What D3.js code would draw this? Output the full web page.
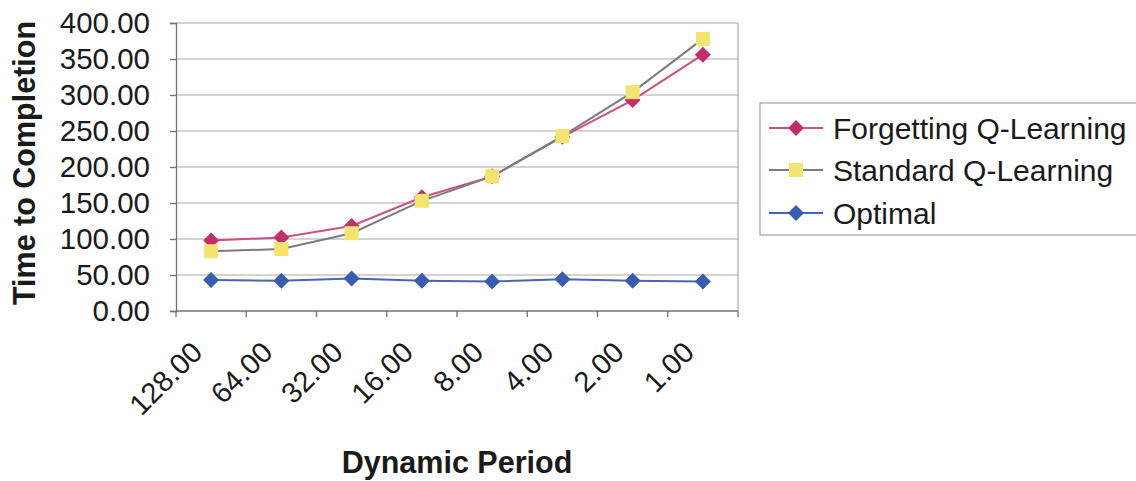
<!DOCTYPE html>
<html>
<head>
<meta charset="utf-8">
<script src="https://cdn.jsdelivr.net/npm/d3@7/dist/d3.min.js"></script>
<style>
  html, body { margin: 0; padding: 0; background: #fff; }
  svg { display: block; font-family: "Liberation Sans", Arial, sans-serif; }
</style>
</head>
<body>
<svg id="chart" width="1136" height="481"></svg>
<script>
// Dynamic period (x categories) and time-to-completion series
const periods = ["128.00", "64.00", "32.00", "16.00", "8.00", "4.00", "2.00", "1.00"];
const forgetting = [98, 102, 118, 158, 187, 242, 293, 356];
const standard   = [83, 86, 108, 153, 187, 243, 304, 378];
const optimal    = [43, 42, 45, 42, 41, 44, 42, 41];
const yTicks = [0, 50, 100, 150, 200, 250, 300, 350, 400];

const seriesNames  = ["Forgetting Q-Learning", "Standard Q-Learning", "Optimal"];
const seriesValues = [forgetting, standard, optimal];
const lineColors   = ["#cc5088", "#7c7c7c", "#4466b4"];
const markerColors = ["#c2306c", "#f2e46e", "#3a5cae"];
const markerShapes = ["diamond", "square", "diamond"];

const svg = d3.select("#chart");
const plot = { left: 176, right: 738, top: 23, bottom: 311 };

const x = d3.scaleBand().domain(periods).range([plot.left, plot.right]).padding(0);
const y = d3.scaleLinear().domain([0, 400]).range([plot.bottom, plot.top]);

// horizontal gridlines
svg.append("g")
  .selectAll("line")
  .data(yTicks.slice(1))
  .join("line")
  .attr("x1", plot.left).attr("x2", plot.right)
  .attr("y1", d => y(d)).attr("y2", d => y(d))
  .attr("stroke", "#a8a8a8").attr("stroke-width", 1.2);

// right border of plot area
svg.append("line")
  .attr("x1", plot.right).attr("x2", plot.right)
  .attr("y1", plot.top).attr("y2", plot.bottom)
  .attr("stroke", "#a8a8a8").attr("stroke-width", 1.2);

// y axis
const yAxis = svg.append("g")
  .attr("transform", `translate(${plot.left},0)`)
  .call(d3.axisLeft(y).tickValues(yTicks).tickFormat(d3.format(".2f")).tickSize(6).tickPadding(20));
yAxis.select(".domain").attr("stroke", "#707070").attr("stroke-width", 1.3);
yAxis.selectAll(".tick line").attr("stroke", "#707070").attr("stroke-width", 1.3);
yAxis.selectAll("text")
  .attr("font-size", 29.5).attr("fill", "#1a1a1a")
  .attr("font-family", "Liberation Sans, Arial, sans-serif");

// x axis: ticks at category boundaries, labels rotated
const xAxis = svg.append("g")
  .attr("transform", `translate(0,${plot.bottom})`)
  .call(d3.axisBottom(x).tickSize(0).tickPadding(0));
xAxis.select(".domain").remove();
xAxis.append("line")
  .attr("x1", plot.left).attr("x2", plot.right)
  .attr("stroke", "#707070").attr("stroke-width", 1.3);
xAxis.selectAll(".boundary")
  .data(d3.range(periods.length + 1))
  .join("line")
  .attr("class", "boundary")
  .attr("x1", i => plot.left + i * x.step()).attr("x2", i => plot.left + i * x.step())
  .attr("y1", 0).attr("y2", 6)
  .attr("stroke", "#707070").attr("stroke-width", 1.3);
xAxis.selectAll(".tick text")
  .attr("font-size", 29).attr("fill", "#1a1a1a")
  .attr("font-family", "Liberation Sans, Arial, sans-serif")
  .attr("text-anchor", "end")
  .attr("dy", 0)
  .attr("transform", "translate(-7,43) rotate(-45)");

// series lines and markers
const line = d3.line()
  .x((d, i) => x(periods[i]) + x.bandwidth() / 2)
  .y(d => y(d));

function marker(g, shape, cx, cy, fill) {
  if (shape === "diamond") {
    g.append("path")
      .attr("d", `M${cx},${cy - 8}L${cx + 8},${cy}L${cx},${cy + 8}L${cx - 8},${cy}Z`)
      .attr("fill", fill);
  } else {
    g.append("rect")
      .attr("x", cx - 7).attr("y", cy - 7)
      .attr("width", 14).attr("height", 14)
      .attr("fill", fill);
  }
}

seriesValues.forEach((vals, s) => {
  const g = svg.append("g");
  g.append("path")
    .datum(vals)
    .attr("d", line)
    .attr("fill", "none")
    .attr("stroke", lineColors[s])
    .attr("stroke-width", 2);
  vals.forEach((v, i) => {
    marker(g, markerShapes[s], x(periods[i]) + x.bandwidth() / 2, y(v), markerColors[s]);
  });
});

// axis titles
svg.append("text")
  .attr("transform", `translate(35,${(plot.top + plot.bottom) / 2 - 4}) rotate(-90)`)
  .attr("text-anchor", "middle")
  .attr("font-size", 30.5).attr("font-weight", "bold").attr("fill", "#1a1a1a")
  .text("Time to Completion");

svg.append("text")
  .attr("x", (plot.left + plot.right) / 2).attr("y", 473)
  .attr("text-anchor", "middle")
  .attr("font-size", 30.5).attr("font-weight", "bold").attr("fill", "#1a1a1a")
  .text("Dynamic Period");

// legend
const legend = svg.append("g");
legend.append("rect")
  .attr("x", 760).attr("y", 103).attr("width", 390).attr("height", 132)
  .attr("fill", "#fff").attr("stroke", "#a0a0a0").attr("stroke-width", 1.2);
const rowY = [128, 170, 213];
seriesNames.forEach((name, s) => {
  const ry = rowY[s];
  legend.append("line")
    .attr("x1", 769).attr("x2", 823).attr("y1", ry).attr("y2", ry)
    .attr("stroke", lineColors[s]).attr("stroke-width", 2);
  marker(legend, markerShapes[s], 796, ry, markerColors[s]);
  legend.append("text")
    .attr("x", 833).attr("y", ry).attr("dy", "0.35em")
    .attr("font-size", 30).attr("fill", "#1a1a1a")
    .text(name);
});
</script>
</body>
</html>
